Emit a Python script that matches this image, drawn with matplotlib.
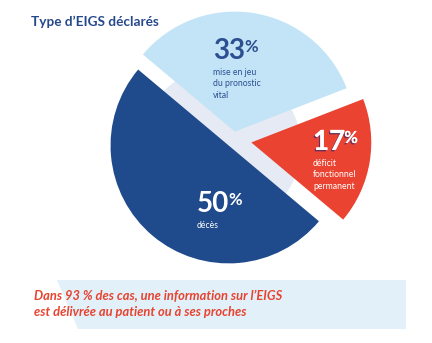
import matplotlib
matplotlib.use("Agg")
import matplotlib.pyplot as plt
import matplotlib.patheffects as pe
from matplotlib.patches import Circle, Polygon

plt.rcParams['font.family'] = ['Lato', 'DejaVu Sans']

# données
categories = ["décès", "déficit\nfonctionnel\npermanent", "mise en jeu\ndu pronostic\nvital"]
values = [50, 17, 33]
colors = ["#1f4a8b", "#ea4331", "#c3e4f6"]
explode = [7.7, 18, 8]   # décalage en pixels (unités des données)
radii = [118, 120, 120]

title = "Type d’EIGS déclarés"
note = "Dans 93 % des cas, une information sur l’EIGS\nest délivrée au patient ou à ses proches"

W, H = 432, 343
fig = plt.figure(figsize=(W / 100, H / 100), dpi=100)
ax = fig.add_axes([0, 0, 1, 1])

# cercle pâle derrière le camembert
ax.add_patch(Circle((221, H - 147), 80, color="#e5eaf4", lw=0, zorder=0))

wedges, _ = ax.pie(values, colors=colors, startangle=140, explode=explode,
                   radius=118, center=(233.5, H - 139.5),
                   wedgeprops=dict(linewidth=0), frame=True)
for w, r in zip(wedges, radii):
    w.set_radius(r)
    w.set_zorder(2)

ax.set_xlim(0, W)
ax.set_ylim(0, H)
ax.set_aspect('equal')
ax.axis('off')

# titre
ax.text(31, H - 22, title, fontsize=9.8, fontweight='bold', color="#26498c",
        ha='left', va='center')

# étiquettes (pourcentage + libellé)
shadow = [pe.withSimplePatchShadow(offset=(-1, -1), shadow_rgbFace="#4b2a6a", alpha=0.8), pe.Normal()]
label_pos = [(197, 204, 221), (313, 142, 159), (213, 51, 68)]
txt_colors = ["white", "white", "#2c4f92"]
for i, (x, yc, yl) in enumerate(label_pos):
    eff = shadow if i == 1 else None
    t = ax.text(x, H - yc, f"{values[i]}", fontsize=20, fontweight='bold',
                color=txt_colors[i], ha='left', va='center', zorder=5, path_effects=eff)
    fig.canvas.draw()
    bb = t.get_window_extent()
    ax.text(bb.x1 - 1, H - yc + 4, "%", fontsize=12, fontweight='bold',
            color=txt_colors[i], ha='left', va='center', zorder=5, path_effects=eff)
    ax.text(x, H - yl, categories[i], fontsize=6.2, color=txt_colors[i],
            ha='left', va='top', linespacing=1.35, zorder=5)

# bandeau du bas
ax.add_patch(Polygon([(57, H - 280), (406, H - 280), (406, H - 329), (78, H - 329)],
                     closed=True, color="#e1f0f9", lw=0, zorder=1))
ax.text(34, H - 304, note, fontsize=9.3, fontweight='bold', style='italic',
        color="#e8432f", ha='left', va='center', linespacing=1.4, zorder=5)

fig.savefig("out.png", dpi=100)
